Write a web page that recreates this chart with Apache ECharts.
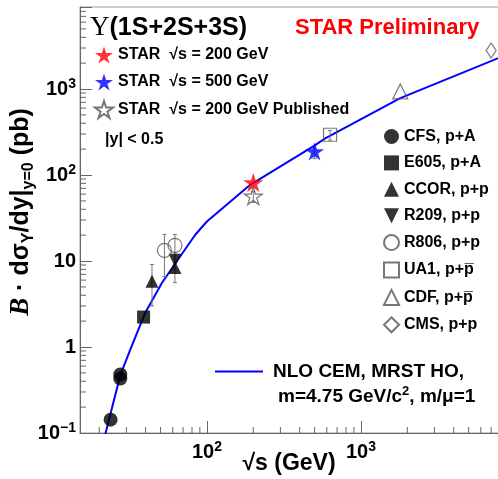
<!DOCTYPE html>
<html>
<head>
<meta charset="utf-8">
<title>Upsilon cross section vs sqrt(s)</title>
<script src="https://cdn.jsdelivr.net/npm/echarts@6/dist/echarts.min.js"></script>
<style>
  html, body { margin: 0; padding: 0; background: #fff; }
  #chart { width: 498px; height: 479px; }
</style>
</head>
<body>
<div id="chart"></div>
<script>
// ---- values (sqrt(s) in GeV, B*dsigma/dy in pb) ----
var cfsX = [23.7, 27.4, 27.4];
var cfsY = [0.143, 0.48, 0.43];
var e605X = [38.8];
var e605Y = [2.23];
var ccorX = [44, 62];
var ccorY = [5.8, 8.4];
var r209X = [62];
var r209Y = [10.2];
var r806X = [53, 62];
var r806Y = [13.3, 15.2];
var ua1X = [630];
var ua1Y = [294];
var cdfX = [1800];
var cdfY = [938];
var cmsX = [7000];
var cmsY = [2810];
var star200X = [200];
var star200Y = [82];
var star500X = [500];
var star500Y = [188];
var starPubX = [200];
var starPubY = [57];

// error bars: x, low, high
var errX = [44, 53, 62, 62, 200, 500, 630];
var errLo = [3.0, 6.6, 8.0, 5.6, 48, 155, 255];
var errHi = [9.1, 20.4, 20.4, 12.5, 64, 205, 330];

// NLO CEM curve
var nloX = [21, 22, 27.4, 31.8, 39.7, 51, 67, 84, 100, 191, 490, 590, 1800, 7800, 10000];
var nloY = [0.065, 0.1, 0.47, 0.93, 2.48, 5.55, 11.3, 20.2, 28.8, 77, 215, 269, 785, 2290, 2750];

// tick decades
var xMinorDecades = [10, 100, 1000];
var yMinorDecades = [0.1, 1, 10, 100, 1000];

function pts(xs, ys) {
    return xs.map(function (x, i) { return [x, ys[i]]; });
}

var font = 'Liberation Sans, Arial, Helvetica, sans-serif';
var starPath = 'path://M50,0 L61.17,34.63 L97.55,34.55 L68.07,55.87 L79.39,90.45 L50,69 L20.61,90.45 L31.93,55.87 L2.45,34.55 L38.83,34.63 Z';
var triDownPath = 'path://M0,0 L10,0 L5,10 Z';
var openColor = '#555';

// 10^n style tick labels
function powLabel(v) {
    var l = Math.log10(v);
    var e = Math.round(l);
    if (Math.abs(l - e) > 1e-6) return '';
    if (e === 0) return '{b|1}';
    if (e === 1) return '{b|10}';
    return '{b|10}{sup|' + (e < 0 ? '\u2212' + (-e) : e) + '}';
}
var labelRich = {
    b: { fontFamily: font, fontWeight: 'bold', fontSize: 20, color: '#000', lineHeight: 24 },
    sup: { fontFamily: font, fontWeight: 'bold', fontSize: 14, color: '#000', lineHeight: 10, verticalAlign: 'top' }
};

function openStyle() {
    return { color: 'rgba(255,255,255,0)', borderColor: openColor, borderWidth: 1.2 };
}

var dom = document.getElementById('chart');
var myChart = echarts.init(dom, null, { renderer: 'canvas' });

var option = {
    animation: false,
    backgroundColor: '#fff',
    grid: {
        left: 80, top: 7, width: 435, height: 426,
        outerBoundsMode: 'none', containLabel: false,
        show: true, borderColor: '#999', borderWidth: 1
    },
    xAxis: {
        type: 'log', logBase: 10, min: 15, max: 10000,
        axisLine: { show: true, lineStyle: { color: '#666', width: 1 } },
        axisTick: { show: true, inside: true, length: 12, lineStyle: { color: '#666' } },
        axisLabel: { formatter: powLabel, rich: labelRich, margin: 7, showMinLabel: true, showMaxLabel: true },
        splitLine: { show: false }
    },
    yAxis: {
        type: 'log', logBase: 10, min: 0.1, max: 9000,
        axisLine: { show: true, lineStyle: { color: '#666', width: 1 } },
        axisTick: { show: true, inside: true, length: 12, lineStyle: { color: '#666' } },
        axisLabel: { formatter: powLabel, rich: labelRich, margin: 4, showMinLabel: true, showMaxLabel: true },
        splitLine: { show: false }
    },
    //legends (each has 5px default padding)
    legend: [
        {
            left: 89, top: 41, orient: 'vertical',
            itemWidth: 18, itemHeight: 18, itemGap: 9,
            textStyle: { fontFamily: font, fontWeight: 'bold', fontSize: 16, color: '#000', lineHeight: 18 },
            data: ['STAR  \u221As = 200 GeV', 'STAR  \u221As = 500 GeV', 'STAR  \u221As = 200 GeV Published']
        },
        {
            left: 378, top: 123.5, orient: 'vertical',
            itemWidth: 15, itemHeight: 15, itemGap: 10.4,
            textStyle: { fontFamily: font, fontWeight: 'bold', fontSize: 16, color: '#000', lineHeight: 15 },
            data: ['CFS, p+A', 'E605, p+A', 'CCOR, p+p', 'R209, p+p', 'R806, p+p',
                   'UA1, p+p\u0305', 'CDF, p+p\u0305', 'CMS, p+p']
        },
        {
            left: 210, top: 357, orient: 'horizontal',
            itemWidth: 48, itemHeight: 2,
            textStyle: { fontFamily: font, fontWeight: 'bold', fontSize: 19, color: '#000', padding: [0, 0, 0, 5] },
            data: [{ name: 'NLO CEM, MRST HO,', icon: 'rect' }]
        }
    ],
    series: [
        {
            name: 'NLO CEM, MRST HO,', type: 'line', data: pts(nloX, nloY),
            symbol: 'none', clip: true, z: 2,
            lineStyle: { color: '#0000ff', width: 2 },
            itemStyle: { color: '#0000ff' }
        },
        {
            //error bars with small caps
            name: 'err', type: 'custom', z: 3, clip: true,
            data: errX.map(function (x, i) { return [x, errLo[i], errHi[i]]; }),
            encode: { x: 0, y: [1, 2] },
            renderItem: function (params, api) {
                var p1 = api.coord([api.value(0), api.value(1)]);
                var p2 = api.coord([api.value(0), api.value(2)]);
                var st = { stroke: '#777', lineWidth: 1 };
                return {
                    type: 'group', children: [
                        { type: 'line', shape: { x1: p1[0], y1: p1[1], x2: p2[0], y2: p2[1] }, style: st },
                        { type: 'line', shape: { x1: p1[0] - 2, y1: p1[1], x2: p1[0] + 2, y2: p1[1] }, style: st },
                        { type: 'line', shape: { x1: p2[0] - 2, y1: p2[1], x2: p2[0] + 2, y2: p2[1] }, style: st }
                    ]
                };
            }
        },
        { name: 'CFS, p+A', type: 'scatter', data: pts(cfsX, cfsY), symbol: 'circle', symbolSize: 14, z: 4, itemStyle: { color: '#000' } },
        { name: 'E605, p+A', type: 'scatter', data: pts(e605X, e605Y), symbol: 'rect', symbolSize: 13, z: 4, itemStyle: { color: '#000' } },
        { name: 'CCOR, p+p', type: 'scatter', data: pts(ccorX, ccorY), symbol: 'triangle', symbolSize: 13, z: 4, itemStyle: { color: '#000' } },
        { name: 'R209, p+p', type: 'scatter', data: pts(r209X, r209Y), symbol: triDownPath, symbolSize: 13, z: 4, itemStyle: { color: '#000' } },
        { name: 'R806, p+p', type: 'scatter', data: pts(r806X, r806Y), symbol: 'circle', symbolSize: 14, z: 4, itemStyle: openStyle() },
        { name: 'UA1, p+p\u0305', type: 'scatter', data: pts(ua1X, ua1Y), symbol: 'rect', symbolSize: 13, z: 4, itemStyle: openStyle() },
        { name: 'CDF, p+p\u0305', type: 'scatter', data: pts(cdfX, cdfY), symbol: 'triangle', symbolSize: 15, z: 4, itemStyle: openStyle() },
        { name: 'CMS, p+p', type: 'scatter', data: pts(cmsX, cmsY), symbol: 'diamond', symbolSize: [10, 15], z: 4, itemStyle: openStyle() },
        { name: 'STAR  \u221As = 200 GeV Published', type: 'scatter', data: pts(starPubX, starPubY), symbol: starPath, symbolKeepAspect: true, symbolSize: 18, z: 5, itemStyle: openStyle() },
        { name: 'STAR  \u221As = 200 GeV', type: 'scatter', data: pts(star200X, star200Y), symbol: starPath, symbolKeepAspect: true, symbolSize: 20, z: 6, itemStyle: { color: '#ff0000' } },
        { name: 'STAR  \u221As = 500 GeV', type: 'scatter', data: pts(star500X, star500Y), symbol: starPath, symbolKeepAspect: true, symbolSize: 19, z: 6, itemStyle: { color: '#0000ff' } }
    ]
};

// free texts: title, preliminary tag, cut, second legend line, axis titles
var texts = [
    {
        type: 'text', x: 90, y: 28,
        style: {
            text: '{u|\u03A5}{t|(1S+2S+3S)}', verticalAlign: 'middle',
            rich: {
                u: { fontFamily: 'Liberation Serif, serif', fontSize: 27, fill: '#000' },
                t: { fontFamily: font, fontWeight: 'bold', fontSize: 25, fill: '#000' }
            }
        }
    },
    {
        type: 'text', x: 295, y: 28,
        style: { text: 'STAR Preliminary', fontFamily: font, fontWeight: 'bold', fontSize: 22, fill: '#ff0000', verticalAlign: 'middle' }
    },
    {
        type: 'text', x: 105, y: 140,
        style: { text: '|y| < 0.5', fontFamily: font, fontWeight: 'bold', fontSize: 16, fill: '#000', verticalAlign: 'middle' }
    },
    {
        type: 'text', x: 278, y: 397,
        style: {
            text: '{n|m=4.75 GeV/c}{sup|2}{n|, m/\u03BC=1}', verticalAlign: 'middle',
            rich: {
                n: { fontFamily: font, fontWeight: 'bold', fontSize: 19, fill: '#000', lineHeight: 24 },
                sup: { fontFamily: font, fontWeight: 'bold', fontSize: 13, fill: '#000', lineHeight: 10, verticalAlign: 'top' }
            }
        }
    },
    {
        type: 'text', x: 289, y: 464,
        style: { text: '\u221As (GeV)', fontFamily: font, fontWeight: 'bold', fontSize: 23, fill: '#000', align: 'center', verticalAlign: 'middle' }
    },
    {
        type: 'text', x: 21, y: 212, rotation: Math.PI / 2,
        style: {
            text: '{it|B}{n| \u00B7 d\u03C3}{s|\u03A5}{n|/dy|}{s|y=0}{n| (pb)}',
            align: 'center', verticalAlign: 'middle',
            rich: {
                it: { fontFamily: 'Liberation Serif, serif', fontStyle: 'italic', fontWeight: 'bold', fontSize: 27, fill: '#000', lineHeight: 32 },
                n: { fontFamily: font, fontWeight: 'bold', fontSize: 25, fill: '#000', lineHeight: 32 },
                s: { fontFamily: font, fontWeight: 'bold', fontSize: 16, fill: '#000', lineHeight: 16, verticalAlign: 'bottom' }
            }
        }
    }
];
option.graphic = texts;

if (option && typeof option === 'object') {
    myChart.setOption(option, true);

    // minor ticks at 2..9 of each decade, placed through the axes' own scale
    var ticks = [];
    var gridBottom = myChart.convertToPixel({ yAxisIndex: 0 }, 0.1);
    var gridLeft = myChart.convertToPixel({ xAxisIndex: 0 }, 15);
    xMinorDecades.forEach(function (d) {
        for (var m = 2; m <= 9; m++) {
            var v = m * d;
            if (v <= 15 || v >= 10000) continue;
            var px = myChart.convertToPixel({ xAxisIndex: 0 }, v);
            ticks.push({ type: 'line', silent: true, shape: { x1: px, y1: gridBottom, x2: px, y2: gridBottom - 6 }, style: { stroke: '#666', lineWidth: 1 } });
        }
    });
    yMinorDecades.forEach(function (d) {
        for (var m = 2; m <= 9; m++) {
            var v = m * d;
            if (v <= 0.1 || v >= 9000) continue;
            var py = myChart.convertToPixel({ yAxisIndex: 0 }, v);
            ticks.push({ type: 'line', silent: true, shape: { x1: gridLeft, y1: py, x2: gridLeft + 6, y2: py }, style: { stroke: '#666', lineWidth: 1 } });
        }
    });
    myChart.setOption({ graphic: texts.concat(ticks) });
}
</script>
</body>
</html>
